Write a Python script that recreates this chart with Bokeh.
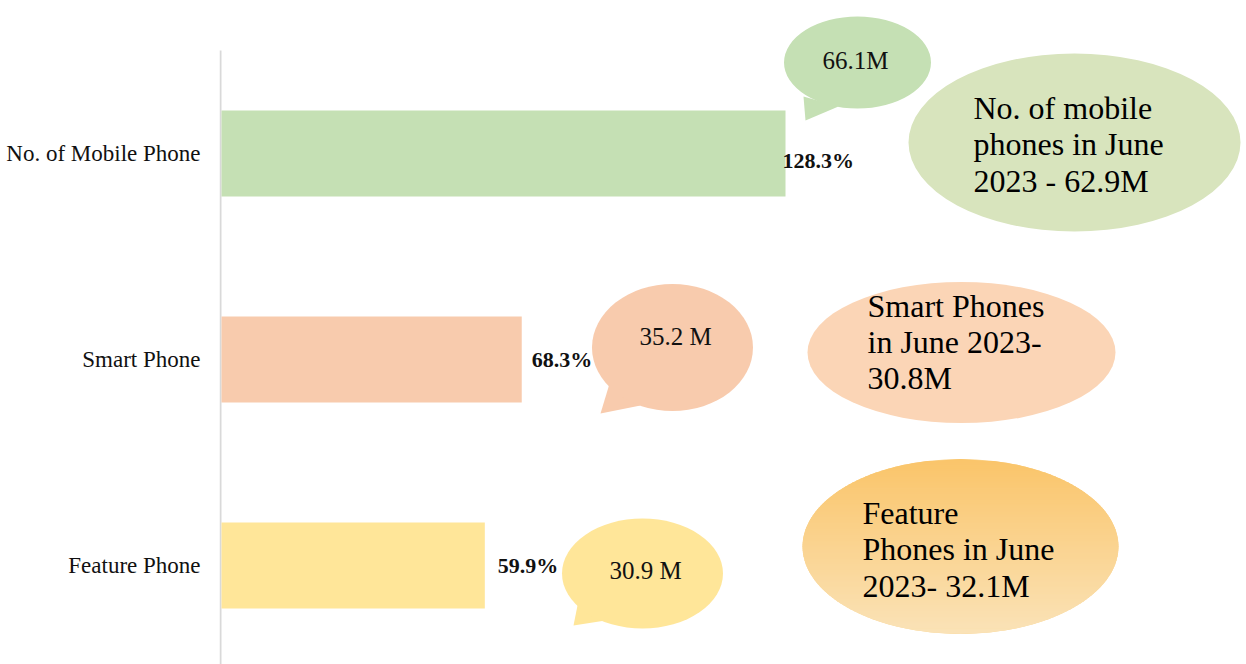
import numpy as np
from bokeh.plotting import figure
from bokeh.models import Range1d, FixedTicker
from bokeh.core.properties import value
from bokeh.embed import file_html
from bokeh.resources import INLINE

# ---- data ----
categories = ["No. of Mobile Phone", "Smart Phone", "Feature Phone"]
growth_pct = [128.3, 68.3, 59.9]
growth_labels = ["128.3%", "68.3%", "59.9%"]
current_counts = ["66.1M", "35.2 M", "30.9 M"]
june_notes = [
    ["No. of mobile", "phones in June", "2023 - 62.9M"],
    ["Smart Phones", "in June 2023-", "30.8M"],
    ["Feature", "Phones in June", "2023- 32.1M"],
]
bar_colors = ["#c5e0b4", "#f8cbad", "#ffe699"]
note_colors = ["#d8e4bd", "#fbd5b6", None]
cat_pos = [2, 1, 0]

FONT = "Liberation Serif"
W, H = 1246, 664
LEFT = 219
SX = 564 / 128.3           # px per percent
SY = 206.0                 # px per category
X0_IMG = 221.0             # pixel of value 0
Y0_IMG = 565.0             # pixel of category position 0
def xd(px):
    return (px - X0_IMG) / SX
def yd(py):
    return (Y0_IMG - py) / SY

p = figure(width=W, height=H, output_backend="svg", toolbar_location=None,
           x_range=Range1d(xd(LEFT), xd(W)), y_range=Range1d(yd(H), yd(0)),
           x_axis_location=None, min_border_left=LEFT, min_border_top=0,
           min_border_right=0, min_border_bottom=0)
p.outline_line_color = None
p.grid.visible = False
p.background_fill_color = "white"

ax = p.yaxis[0]
ax.ticker = FixedTicker(ticks=cat_pos)
ax.major_label_overrides = {c: n for c, n in zip(cat_pos, categories)}
ax.major_tick_line_color = None
ax.minor_tick_line_color = None
ax.axis_line_color = None
ax.major_label_standoff = 13
ax.major_label_text_font = FONT
ax.major_label_text_font_size = "23px"
ax.major_label_text_color = "#111111"

# axis line (drawn as a segment so that it can start below the top)
p.segment(x0=[xd(220)], y0=[yd(50)], x1=[xd(220)], y1=[yd(H)], line_color="#d9d9d9", line_width=2)

# bars
p.hbar(y=cat_pos, left=0, right=growth_pct, height=86 / SY, color=bar_colors, line_color=None)

# bar-end labels
p.text(x=growth_pct, y=cat_pos, text=growth_labels, x_offset=[-3, 10, 13], y_offset=[7, 0, 0],
       text_font=value(FONT), text_font_style="bold", text_font_size="22px",
       text_baseline="middle", text_align="left", text_color="#111111")

# speech bubbles (pixel geometry)
bubbles = [
    dict(c=(857, 62), w=147, h=92, tail=[(803, 96), (805, 120), (838, 106)], t=(855, 60)),
    dict(c=(672, 347), w=161, h=127, tail=[(610, 380), (600, 413), (640, 405)], t=(675, 336)),
    dict(c=(642, 573), w=161, h=110, tail=[(578, 600), (573, 625), (605, 620)], t=(645, 570)),
]
for b, col, lab in zip(bubbles, bar_colors, current_counts):
    p.patch([xd(q[0]) for q in b["tail"]], [yd(q[1]) for q in b["tail"]], color=col, line_color=None)
    p.ellipse(x=xd(b["c"][0]), y=yd(b["c"][1]), width=b["w"] / SX, height=b["h"] / SY,
              color=col, line_color=None)
    p.text(x=[xd(b["t"][0])], y=[yd(b["t"][1])], text=[lab], text_font=value(FONT),
           text_font_size="25px", text_align="center", text_baseline="middle", text_color="#111111")

# note ellipses
notes = [
    dict(c=(1074, 142), w=332, h=178, tx=973, ty=[107, 143, 180]),
    dict(c=(961, 352), w=308, h=141, tx=867, ty=[305, 341, 377]),
    dict(c=(960, 546), w=316, h=175, tx=862, ty=[512, 548, 585]),
]
for i, (n, col, lines) in enumerate(zip(notes, note_colors, june_notes)):
    cx, cy = n["c"]
    a, bb = n["w"] / 2, n["h"] / 2
    if col is not None:
        p.ellipse(x=xd(cx), y=yd(cy), width=n["w"] / SX, height=n["h"] / SY, color=col, line_color=None)
    else:
        # vertical gradient orange ellipse
        p.ellipse(x=xd(cx), y=yd(cy), width=n["w"] / SX, height=n["h"] / SY, color="#fad48f", line_color=None)
        top_c = np.array([250, 197, 106])
        bot_c = np.array([251, 227, 184])
        N = 90
        xs_all, ys_all, cols = [], [], []
        edges = np.linspace(cy - bb, cy + bb, N + 1)
        def half(yy):
            r = 1 - ((yy - cy) / bb) ** 2
            return a * np.sqrt(max(r, 0.0))
        for k in range(N):
            y0, y1 = edges[k], min(edges[k + 1] + 0.7, cy + bb)
            h0, h1 = half(y0), half(y1)
            xs_all.append([xd(cx - h0), xd(cx + h0), xd(cx + h1), xd(cx - h1)])
            ys_all.append([yd(y0), yd(y0), yd(y1), yd(y1)])
            t = (k + 0.5) / N
            c = (top_c * (1 - t) + bot_c * t).astype(int)
            cols.append("#%02x%02x%02x" % tuple(c))
        p.patches(xs_all, ys_all, fill_color=cols, line_color=None)
    p.text(x=[xd(n["tx"])] * len(lines), y=[yd(v) for v in n["ty"]], text=lines,
           text_font=value(FONT), text_font_size="32px", text_align="left",
           text_baseline="middle", text_color="#000000")

open("out.html", "w").write(file_html(p, INLINE))
